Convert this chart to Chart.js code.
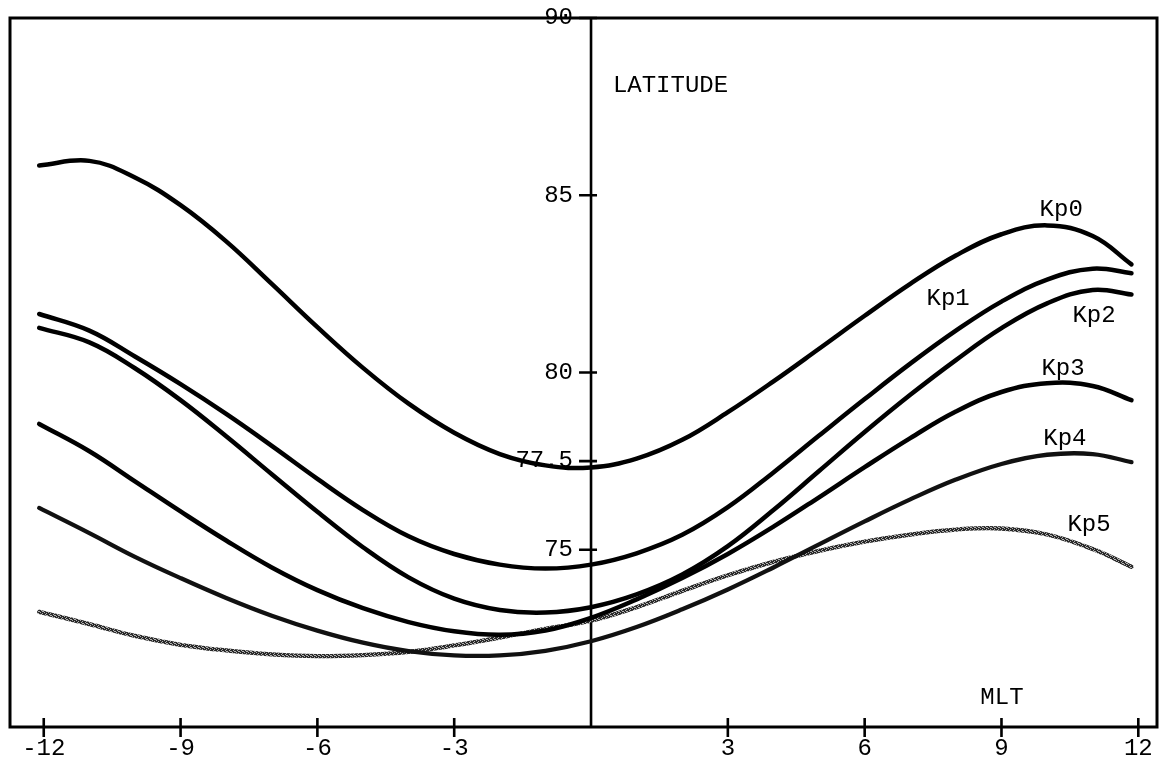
<!DOCTYPE html>
<html>
<head>
<meta charset="utf-8">
<script src="https://cdn.jsdelivr.net/npm/chart.js@4/dist/chart.umd.min.js"></script>
<style>
  html, body { margin: 0; background: #fff; }
  #wrap { width: 1162px; height: 769px; }
</style>
</head>
<body>
<div id="wrap"><canvas id="c"></canvas></div>
<script>
// magnetic local time (hours) and latitude of each Kp boundary
const mlt = [-12.1, -11, -10, -9, -8, -7, -6, -5, -4, -3, -2, -1, 0, 1, 2, 3, 4, 5, 6, 7, 8, 9, 10, 11, 11.85];
const kp0 = [85.84, 85.97, 85.5, 84.72, 83.7, 82.5, 81.28, 80.13, 79.12, 78.3, 77.7, 77.38, 77.32, 77.57, 78.1, 78.88, 79.75, 80.67, 81.6, 82.5, 83.3, 83.9, 84.15, 83.85, 83.05];
const kp1 = [81.65, 81.18, 80.45, 79.67, 78.83, 77.93, 77.0, 76.12, 75.38, 74.88, 74.58, 74.47, 74.58, 74.9, 75.42, 76.2, 77.18, 78.22, 79.25, 80.25, 81.18, 82.0, 82.62, 82.93, 82.8];
const kp2 = [81.26, 80.85, 80.12, 79.22, 78.2, 77.13, 76.07, 75.07, 74.22, 73.62, 73.3, 73.23, 73.38, 73.74, 74.3, 75.1, 76.12, 77.22, 78.32, 79.37, 80.35, 81.25, 81.95, 82.33, 82.2];
const kp3 = [78.55, 77.78, 76.93, 76.08, 75.26, 74.5, 73.86, 73.35, 72.96, 72.7, 72.6, 72.72, 73.08, 73.6, 74.2, 74.88, 75.65, 76.48, 77.33, 78.15, 78.9, 79.45, 79.7, 79.62, 79.22];
const kp4 = [76.18, 75.47, 74.8, 74.2, 73.64, 73.14, 72.72, 72.38, 72.14, 72.02, 72.02, 72.15, 72.42, 72.82, 73.32, 73.88, 74.5, 75.15, 75.8, 76.42, 76.98, 77.42, 77.68, 77.7, 77.47];
const kp5 = [73.25, 72.9, 72.57, 72.32, 72.16, 72.05, 72.0, 72.03, 72.12, 72.3, 72.52, 72.77, 73.0, 73.38, 73.84, 74.28, 74.66, 74.97, 75.23, 75.43, 75.57, 75.6, 75.43, 75.02, 74.52];
const names = ['Kp0', 'Kp1', 'Kp2', 'Kp3', 'Kp4', 'Kp5'];

const xTicks = [-12, -9, -6, -3, 3, 6, 9, 12];
const yTicks = [75, 77.5, 80, 85, 90];

// where the curve names sit, in (MLT, latitude)
const tagAt = { Kp0: [10.31, 84.58], Kp1: [7.83, 82.09], Kp2: [11.03, 81.61],
                Kp3: [10.35, 80.11], Kp4: [10.39, 78.14], Kp5: [10.92, 75.71] };

const FONT = '"Liberation Mono", "DejaVu Sans Mono", monospace';

// speckled grey for the Kp5 trace, like the photocopied original
function speckle() {
  const c = document.createElement('canvas');
  c.width = 4; c.height = 4;
  const g = c.getContext('2d');
  g.fillStyle = '#2a2a2a'; g.fillRect(0, 0, 4, 4);
  g.fillStyle = '#b0b0b0';
  [[0, 0], [2, 1], [1, 2], [3, 3], [2, 3]].forEach(([a, b]) => g.fillRect(a, b, 1, 1));
  return g.createPattern(c, 'repeat');
}

const colors = ['#000', '#000', '#000', '#000', '#111', speckle()];
const widths = [4.5, 4.5, 4.5, 4.5, 4.3, 4.3];

const series = [kp0, kp1, kp2, kp3, kp4, kp5];
const datasets = series.map((vals, i) => ({
  label: names[i],
  data: vals.map((v, j) => ({ x: mlt[j], y: v })),
  showLine: true, borderColor: colors[i], borderWidth: widths[i],
  pointRadius: 0, tension: 0.4, borderCapStyle: 'round', fill: false,
}));

const frame = {
  id: 'frame',
  beforeDatasetsDraw(chart) {
    const { ctx, chartArea: a, scales: { x, y } } = chart;
    const x0 = x.getPixelForValue(0);
    ctx.save();
    ctx.strokeStyle = '#000';
    ctx.lineWidth = 3;
    ctx.strokeRect(a.left, a.top, a.right - a.left, a.bottom - a.top);
    ctx.lineWidth = 2.6;
    ctx.beginPath();
    ctx.moveTo(x0, a.top); ctx.lineTo(x0, a.bottom);
    for (const v of yTicks) {
      const py = y.getPixelForValue(v);
      ctx.moveTo(x0 - 12, py); ctx.lineTo(x0 + 6, py);
    }
    for (const v of xTicks) {
      const px = x.getPixelForValue(v);
      ctx.moveTo(px, a.bottom - 9); ctx.lineTo(px, a.bottom + 10);
    }
    ctx.stroke();
    ctx.fillStyle = '#000';
    ctx.font = '24px ' + FONT;
    ctx.textAlign = 'right';
    ctx.textBaseline = 'middle';
    for (const v of yTicks) ctx.fillText(String(v), x0 - 18, y.getPixelForValue(v));
    ctx.restore();
  },
  afterDatasetsDraw(chart) {
    const { ctx, scales: { x, y } } = chart;
    ctx.save();
    ctx.fillStyle = '#000';
    ctx.font = '24px ' + FONT;
    ctx.textBaseline = 'middle';
    ctx.textAlign = 'center';
    for (const n of names) {
      const [mx, my] = tagAt[n];
      ctx.fillText(n, x.getPixelForValue(mx), y.getPixelForValue(my));
    }
    ctx.fillText('MLT', x.getPixelForValue(9.01), y.getPixelForValue(70.82));
    ctx.textAlign = 'left';
    ctx.fillText('LATITUDE', x.getPixelForValue(0.48), y.getPixelForValue(88.08));
    ctx.restore();
  }
};

new Chart(document.getElementById('c'), {
  type: 'scatter',
  data: { datasets },
  options: {
    responsive: true, maintainAspectRatio: false, animation: false,
    layout: { padding: { left: 10, right: 5, top: 18, bottom: 0 } },
    plugins: { legend: { display: false }, tooltip: { enabled: false } },
    scales: {
      x: {
        type: 'linear', min: -12.74, max: 12.41,
        afterBuildTicks: s => { s.ticks = xTicks.map(v => ({ value: v })); },
        afterFit: s => { s.height = 42; },
        grid: { display: false, drawTicks: false },
        border: { display: false },
        ticks: { color: '#000', font: { family: FONT, size: 24 }, padding: 7, autoSkip: false, maxRotation: 0 }
      },
      y: {
        type: 'linear', min: 70, max: 90, display: false
      }
    }
  },
  plugins: [frame]
});
</script>
</body>
</html>
